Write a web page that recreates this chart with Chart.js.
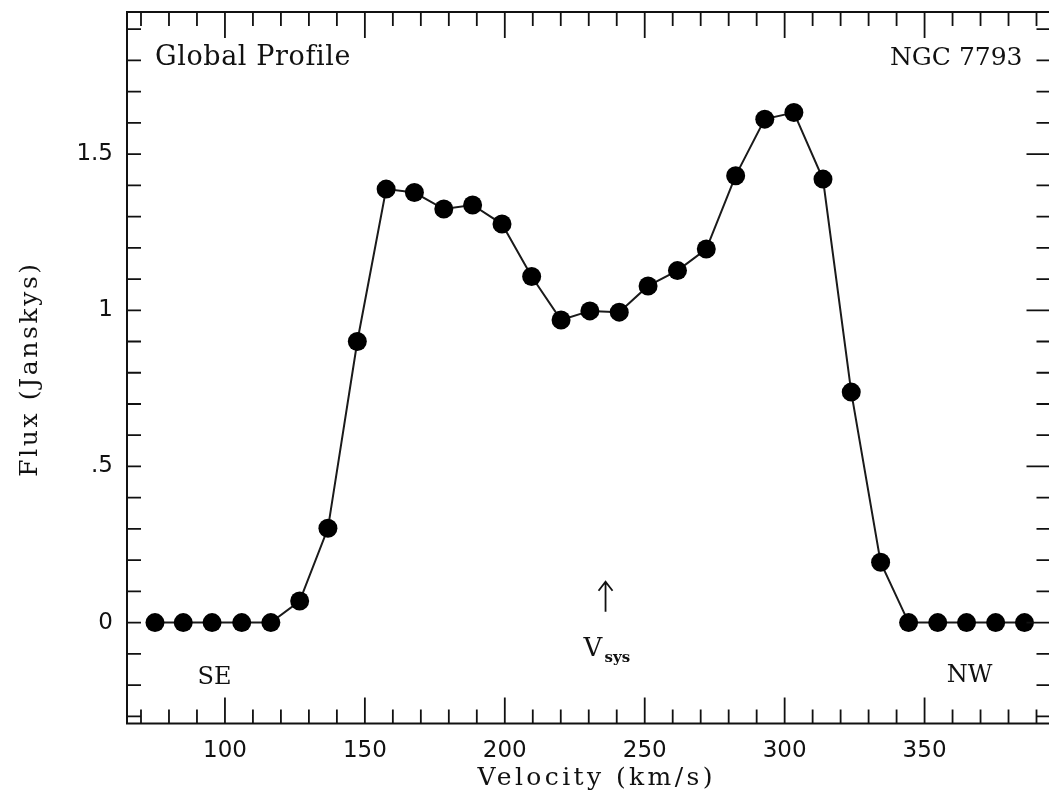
<!DOCTYPE html>
<html>
<head>
<meta charset="utf-8">
<script src="https://cdn.jsdelivr.net/npm/chart.js@4/dist/chart.umd.min.js"></script>
<style>
  html, body { margin: 0; padding: 0; background: #fff; overflow: hidden; }
  #wrap { width: 1049px; height: 796px; overflow: hidden; position: relative; }
  canvas { display: block; }
</style>
</head>
<body>
<div id="wrap"><canvas id="c" width="1060" height="796" style="width:1060px;height:796px"></canvas></div>
<script>
// ---- data ----
const velocity = [75.0, 85.1, 95.4, 106.0, 116.4, 126.7, 136.8, 147.3, 157.6, 167.7,
                  178.2, 188.5, 199.0, 209.6, 220.1, 230.4, 240.9, 251.2, 261.7, 272.0,
                  282.5, 292.9, 303.3, 313.7, 323.8, 334.3, 344.3, 354.7, 365.0, 375.4, 385.7];
const flux = [0, 0, 0, 0, 0, 0.069, 0.302, 0.900, 1.388, 1.377,
              1.324, 1.337, 1.276, 1.108, 0.969, 0.998, 0.994, 1.078, 1.127, 1.196,
              1.431, 1.612, 1.633, 1.420, 0.738, 0.193, 0, 0, 0, 0, 0];
const xMajorTicks = [100, 150, 200, 250, 300, 350];
const xMajorLabels = ['100', '150', '200', '250', '300', '350'];
const yMajorTicks = [0, 0.5, 1, 1.5];
const yMajorLabels = ['0', '.5', '1', '1.5'];
const xMinorStep = 10;
const yMinorStep = 0.1;
const vsys = 236;
const xRange = [65, 395];
const yRange = [-0.323, 1.955];

const INK = '#111111';
const serif = '"DejaVu Serif", "Liberation Serif", serif';
const sans = '"DejaVu Sans", "Liberation Sans", sans-serif';

function isMajor(v, list) { return list.some(m => Math.abs(m - v) < 1e-6); }
function labelFor(v, list, labels) {
  for (let i = 0; i < list.length; i++) if (Math.abs(list[i] - v) < 1e-6) return labels[i];
  return '';
}
function stepTicks(scale, step) {
  const out = [];
  const start = Math.ceil(scale.min / step - 1e-9);
  const end = Math.floor(scale.max / step + 1e-9);
  for (let k = start; k <= end; k++) out.push({ value: Math.round(k * step * 1000) / 1000 });
  scale.ticks = out;
}

const framePlugin = {
  id: 'frame',
  afterDraw(chart) {
    const ctx = chart.ctx, a = chart.chartArea;
    const xs = chart.scales.x, ys = chart.scales.y;
    ctx.save();
    ctx.strokeStyle = INK;
    ctx.lineWidth = 2;
    ctx.strokeRect(a.left, a.top, a.right - a.left, a.bottom - a.top);
    ctx.lineWidth = 1.8;
    ctx.beginPath();
    xs.ticks.forEach(t => {
      const px = xs.getPixelForValue(t.value);
      const len = isMajor(t.value, xMajorTicks) ? 26 : 14;
      ctx.moveTo(px, a.bottom); ctx.lineTo(px, a.bottom - len);
      ctx.moveTo(px, a.top); ctx.lineTo(px, a.top + len);
    });
    ys.ticks.forEach(t => {
      const py = ys.getPixelForValue(t.value);
      const maj = isMajor(t.value, yMajorTicks);
      ctx.moveTo(a.left, py); ctx.lineTo(a.left + 14, py);
      ctx.moveTo(a.right, py); ctx.lineTo(a.right - (maj ? 24 : 14), py);
    });
    ctx.stroke();

    // annotations
    ctx.fillStyle = INK;
    ctx.letterSpacing = '0.6px';
    ctx.font = '27px ' + serif;
    ctx.textBaseline = 'alphabetic';
    ctx.textAlign = 'left';
    ctx.fillText('Global Profile', a.left + 28, a.top + 53);
    ctx.letterSpacing = '0px';
    ctx.font = '25px ' + serif;
    ctx.textAlign = 'right';
    ctx.fillText('NGC 7793', a.right - 28, a.top + 53);
    ctx.textAlign = 'left';
    ctx.font = '24px ' + serif;
    ctx.fillText('SE', xs.getPixelForValue(90.2), ys.getPixelForValue(-0.195));
    ctx.fillText('NW', xs.getPixelForValue(357.9), ys.getPixelForValue(-0.189));

    // Vsys arrow
    const ax = xs.getPixelForValue(vsys);
    const yTop = ys.getPixelForValue(0.131), yBot = ys.getPixelForValue(0.035);
    ctx.lineWidth = 1.8;
    ctx.beginPath();
    ctx.moveTo(ax, yTop); ctx.lineTo(ax, yBot);
    ctx.moveTo(ax - 7, yTop + 9); ctx.lineTo(ax, yTop); ctx.lineTo(ax + 7, yTop + 9);
    ctx.stroke();
    ctx.font = '26px ' + serif;
    ctx.textAlign = 'left';
    const vBase = ys.getPixelForValue(-0.108);
    ctx.fillText('V', ax - 22, vBase);
    ctx.font = 'bold 15px ' + serif;
    ctx.fillText('sys', ax - 1, vBase + 6);

    // axis titles
    ctx.letterSpacing = '3.4px';
    ctx.font = '25px ' + serif;
    ctx.textAlign = 'center';
    ctx.fillText('Velocity (km/s)', (a.left + a.right) / 2 + 8, 785);
    ctx.letterSpacing = '2.6px';
    ctx.translate(37, 369);
    ctx.rotate(-Math.PI / 2);
    ctx.fillText('Flux (Janskys)', 0, 0);
    ctx.restore();
  }
};

new Chart(document.getElementById('c'), {
  type: 'line',
  data: {
    datasets: [{
      data: velocity.map((v, i) => ({ x: v, y: flux[i] })),
      borderColor: '#1a1a1a',
      borderWidth: 2,
      pointRadius: 9.5,
      pointBackgroundColor: '#000',
      pointBorderColor: '#000',
      pointBorderWidth: 0,
      tension: 0,
      fill: false
    }]
  },
  options: {
    responsive: false,
    animation: false,
    devicePixelRatio: 1,
    layout: { padding: { top: 12, right: 6.5, left: 0, bottom: 0 } },
    plugins: { legend: { display: false }, tooltip: { enabled: false } },
    scales: {
      x: {
        type: 'linear',
        min: xRange[0], max: xRange[1],
        grid: { display: false, drawTicks: false },
        border: { display: false },
        afterBuildTicks: s => stepTicks(s, xMinorStep),
        ticks: {
          autoSkip: false, maxRotation: 0,
          padding: 14, color: INK,
          font: { family: sans, size: 23 },
          callback: v => labelFor(v, xMajorTicks, xMajorLabels)
        },
        afterFit: s => { s.height = 72.5; s.paddingLeft = 0; s.paddingRight = 0; }
      },
      y: {
        type: 'linear',
        min: yRange[0], max: yRange[1],
        grid: { display: false, drawTicks: false },
        border: { display: false },
        afterBuildTicks: s => stepTicks(s, yMinorStep),
        ticks: {
          autoSkip: false,
          padding: 14, color: INK,
          font: { family: sans, size: 23 },
          callback: v => labelFor(v, yMajorTicks, yMajorLabels)
        },
        afterFit: s => { s.width = 127; s.paddingTop = 0; s.paddingBottom = 0; }
      }
    }
  },
  plugins: [framePlugin]
});
</script>
</body>
</html>
